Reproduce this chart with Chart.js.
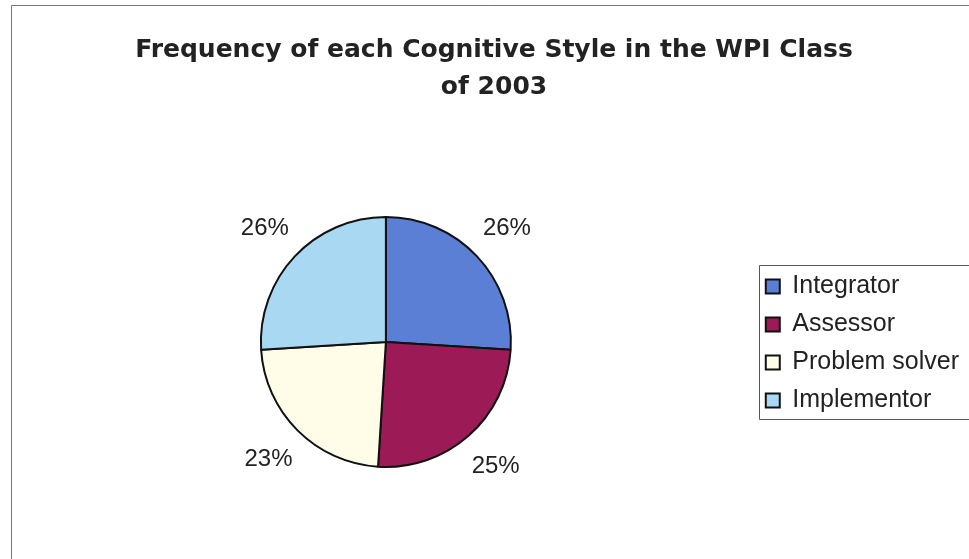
<!DOCTYPE html>
<html lang="en">
<head>
    <meta charset="UTF-8">
    <title>Cognitive Style - WPI Class of 2003</title>
    <script src="https://cdn.jsdelivr.net/npm/chart.js"></script>
    <style>
        html, body { margin: 0; padding: 0; background: #fff; }
        #wrap { width: 969px; height: 559px; }
    </style>
</head>
<body>
    <div id="wrap"><canvas id="styleChart" width="969" height="559"></canvas></div>
    <script>
        // data
        const styles = ['Integrator', 'Assessor', 'Problem solver', 'Implementor'];
        const shares = [26, 25, 23, 26];
        const sliceColors = ['#5b7fd4', '#9c1b56', '#fffde8', '#a9d8f2'];
        const titleLines = ['Frequency of each Cognitive Style in the WPI Class', 'of 2003'];

        const FONT = '"Liberation Sans", Arial, sans-serif';

        // percent labels outside each slice + frame and legend box
        const extras = {
            id: 'extras',
            afterDraw(chart) {
                const ctx = chart.ctx;
                ctx.save();
                // outer frame (left + top edge)
                ctx.strokeStyle = '#777';
                ctx.lineWidth = 1;
                ctx.beginPath();
                ctx.moveTo(11.5, 559);
                ctx.lineTo(11.5, 5.5);
                ctx.lineTo(969, 5.5);
                ctx.stroke();

                // legend box
                const boxes = chart.legend.legendHitBoxes;
                if (boxes.length) {
                    const first = boxes[0], last = boxes[boxes.length - 1];
                    const x0 = Math.round(first.left - 7) + 0.5;
                    const y0 = Math.round(first.top - 9) + 0.5;
                    const y1 = Math.round(last.top + last.height + 6) + 0.5;
                    ctx.strokeStyle = '#555';
                    ctx.beginPath();
                    ctx.moveTo(975, y0);
                    ctx.lineTo(x0, y0);
                    ctx.lineTo(x0, y1);
                    ctx.lineTo(975, y1);
                    ctx.stroke();
                }

                // percentages
                const meta = chart.getDatasetMeta(0);
                ctx.fillStyle = '#222';
                ctx.font = '24px ' + FONT;
                ctx.textAlign = 'center';
                ctx.textBaseline = 'middle';
                meta.data.forEach((arc, i) => {
                    const p = arc.getProps(['x', 'y', 'startAngle', 'endAngle', 'outerRadius'], true);
                    const mid = (p.startAngle + p.endAngle) / 2;
                    const r = p.outerRadius + 41;
                    ctx.fillText(shares[i] + '%', p.x + Math.cos(mid) * r, p.y + Math.sin(mid) * r);
                });
                ctx.restore();
            }
        };

        const styleChart = new Chart(document.getElementById('styleChart'), {
            type: 'pie',
            data: {
                labels: styles,
                datasets: [{
                    data: shares,
                    backgroundColor: sliceColors,
                    borderColor: '#111',
                    borderWidth: 2,
                    radius: 125
                }]
            },
            options: {
                responsive: false,
                animation: false,
                layout: { padding: { top: 5, left: 19, right: 0, bottom: 65 } },
                plugins: {
                    title: {
                        display: true,
                        text: titleLines,
                        color: '#222',
                        font: { family: '"DejaVu Sans", sans-serif', size: 25, weight: 'bold', lineHeight: 1.48 },
                        padding: { top: 27, bottom: 84 }
                    },
                    legend: {
                        position: 'right',
                        // empty title only pushes the item column down
                        title: {
                            display: true,
                            text: ' ',
                            font: { size: 12, lineHeight: 1.2 },
                            padding: { top: 173.6, bottom: 0 }
                        },
                        labels: {
                            color: '#222',
                            font: { family: FONT, size: 25 },
                            boxWidth: 14,
                            boxHeight: 14,
                            padding: 13,
                            generateLabels(chart) {
                                return styles.map((s, i) => ({
                                    text: s,
                                    fillStyle: sliceColors[i],
                                    strokeStyle: '#111',
                                    lineWidth: 2,
                                    fontColor: '#222',
                                    hidden: false,
                                    index: i
                                }));
                            }
                        }
                    },
                    tooltip: { enabled: false }
                }
            },
            plugins: [extras]
        });
    </script>
</body>
</html>
